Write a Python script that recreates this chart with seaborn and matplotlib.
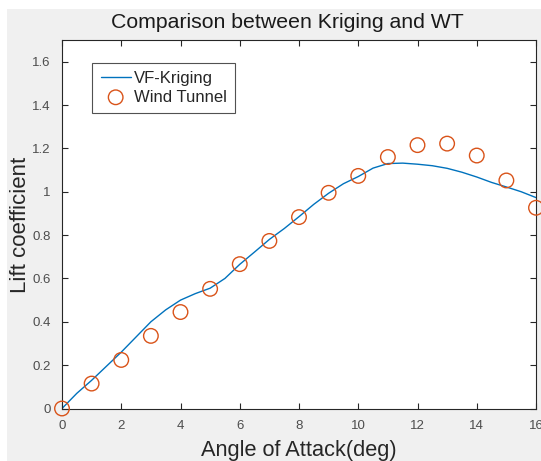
import matplotlib
matplotlib.use("Agg")
import matplotlib.pyplot as plt
import seaborn as sns
import pandas as pd
from matplotlib.patches import Rectangle

sns.set_style("white")
plt.rcParams["font.family"] = ["Liberation Sans", "DejaVu Sans"]

# Kriging surrogate curve (angle in degrees, lift coefficient)
kriging_aoa = [0, 0.5, 1, 1.5, 2, 2.5, 3, 3.5, 4, 4.5, 5, 5.5, 6, 6.5, 7, 7.5, 8,
               8.5, 9, 9.5, 10, 10.5, 11, 11.5, 12, 12.5, 13, 13.5, 14, 14.5, 15,
               15.5, 16]
kriging_cl = [0.0, 0.07, 0.13, 0.195, 0.26, 0.33, 0.40, 0.455, 0.50, 0.53, 0.555,
              0.60, 0.665, 0.722, 0.78, 0.83, 0.885, 0.942, 0.993, 1.037, 1.07,
              1.109, 1.13, 1.132, 1.127, 1.12, 1.108, 1.09, 1.068, 1.043, 1.022,
              1.0, 0.973]

# Wind tunnel measurements
wt_aoa = list(range(0, 17))
wt_cl = [0.0, 0.115, 0.224, 0.335, 0.445, 0.552, 0.666, 0.773, 0.883, 0.995,
         1.073, 1.16, 1.215, 1.222, 1.167, 1.052, 0.926]

x_ticks = [0, 2, 4, 6, 8, 10, 12, 14, 16]
y_ticks = [0, 0.2, 0.4, 0.6, 0.8, 1.0, 1.2, 1.4, 1.6]
y_tick_labels = ["0", "0.2", "0.4", "0.6", "0.8", "1", "1.2", "1.4", "1.6"]

W, H = 541, 461
fig = plt.figure(figsize=(W / 100, H / 100), dpi=100, facecolor="white")
fig.patches.append(Rectangle((7 / W, 0), 1 - 7 / W, 1 - 9 / H,
                             transform=fig.transFigure, facecolor="#f0f0f0",
                             edgecolor="none", zorder=-10))

ax = fig.add_axes([62 / W, 1 - 408.5 / H, (536 - 62) / W, (408.5 - 40) / H])
ax.set_facecolor("white")

blue = "#0072BD"
orange = "#D95319"

krig = pd.DataFrame({"aoa": kriging_aoa, "cl": kriging_cl})
wt = pd.DataFrame({"aoa": wt_aoa, "cl": wt_cl})

sns.lineplot(data=krig, x="aoa", y="cl", ax=ax, color=blue, linewidth=1.0,
             label="VF-Kriging", zorder=2)
sns.scatterplot(data=wt, x="aoa", y="cl", ax=ax, marker="o", s=110,
                facecolors="none", edgecolor=orange, linewidth=1.0,
                label="Wind Tunnel", zorder=3, clip_on=False)

ax.set_xlim(0, 16)
ax.set_ylim(0, 1.7)
ax.set_xticks(x_ticks)
ax.set_yticks(y_ticks)
ax.set_yticklabels(y_tick_labels)

axis_color = "#262626"
for side in ["left", "right", "top", "bottom"]:
    ax.spines[side].set_visible(True)
    ax.spines[side].set_color(axis_color)
    ax.spines[side].set_linewidth(0.8)
ax.tick_params(axis="both", which="both", direction="in", length=4,
               width=0.8, color=axis_color, labelcolor="#4d4d4d",
               labelsize=9.5, top=True, right=True, bottom=True, left=True)
ax.tick_params(axis="x", pad=8)
ax.tick_params(axis="y", pad=8)

ax.set_xlabel("Angle of Attack(deg)", fontsize=15.7, color="#262626")
ax.xaxis.set_label_coords(0.5, -0.086)
ax.set_ylabel("Lift coefficient", fontsize=16, color="#262626")
ax.yaxis.set_label_coords(-0.066, 0.498)
fig.text(287 / W, 1 - 22 / H, "Comparison between Kriging and WT",
         ha="center", va="center", fontsize=15.3, color="#1a1a1a")

leg = ax.legend(loc="upper left", bbox_to_anchor=(0.064, 0.9376), frameon=True,
                fancybox=False, edgecolor="#262626", fontsize=12,
                handlelength=1.8, borderpad=0.5, labelspacing=0.2,
                handletextpad=0.2, borderaxespad=0)
leg.get_frame().set_linewidth(0.8)

fig.savefig("out.png", dpi=100, facecolor=fig.get_facecolor())
